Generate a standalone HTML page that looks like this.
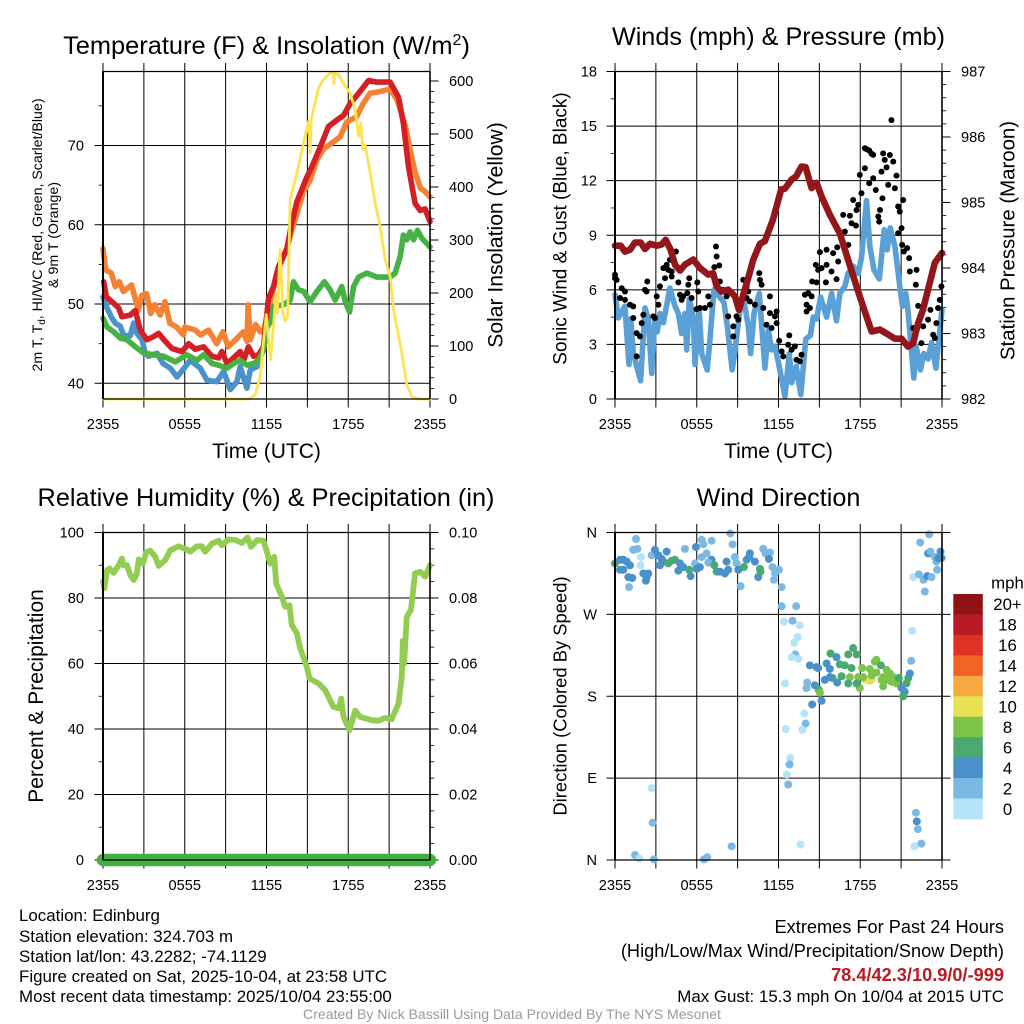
<!DOCTYPE html>
<html lang="en">
<head>
<meta charset="utf-8">
<title>Edinburg Mesonet Meteogram</title>
<style>
html,body{margin:0;padding:0;background:#fff;}
svg{display:block;font-family:"Liberation Sans",sans-serif;fill:#000;}
</style>
</head>
<body>
<svg id="chart" width="1024" height="1024" viewBox="0 0 1024 1024" xmlns="http://www.w3.org/2000/svg">
<rect width="1024" height="1024" fill="#fff"/>

<g id="panel-temp"></g>
<g id="panel-wind"></g>
<g id="panel-rh"></g>
<g id="panel-dir"></g>

<text x="266.5" y="54" font-size="25.4" text-anchor="middle">Temperature (F) &amp; Insolation (W/m<tspan dy="-9" font-size="16">2</tspan><tspan dy="9">)</tspan></text>
<text x="778.5" y="45" font-size="25.2" text-anchor="middle">Winds (mph) &amp; Pressure (mb)</text>
<text x="266" y="506" font-size="25.3" text-anchor="middle">Relative Humidity (%) &amp; Precipitation (in)</text>
<text x="778.5" y="506" font-size="25.2" text-anchor="middle">Wind Direction</text>

<text x="266.5" y="458" font-size="21" text-anchor="middle">Time (UTC)</text>
<text x="778.5" y="458" font-size="21" text-anchor="middle">Time (UTC)</text>

<text transform="translate(42,235) rotate(-90)" font-size="14.2" text-anchor="middle">2m T, T<tspan dy="3" font-size="10">d</tspan><tspan dy="-3">, HI/WC (Red, Green, Scarlet/Blue)</tspan></text>
<text transform="translate(58,235) rotate(-90)" font-size="14.2" text-anchor="middle">&amp; 9m T (Orange)</text>
<text transform="translate(502.5,235) rotate(-90)" font-size="21.1" text-anchor="middle">Solar Insolation (Yellow)</text>
<text transform="translate(566.5,228.5) rotate(-90)" font-size="19" text-anchor="middle">Sonic Wind &amp; Gust (Blue, Black)</text>
<text transform="translate(1014.5,240.5) rotate(-90)" font-size="20.4" text-anchor="middle">Station Pressure (Maroon)</text>
<text transform="translate(43,696) rotate(-90)" font-size="21" text-anchor="middle">Percent &amp; Precipitation</text>
<text transform="translate(566.5,696) rotate(-90)" font-size="18.4" text-anchor="middle">Direction (Colored By Speed)</text>

<g id="speed-legend"></g>

<g font-size="16.9">
<text x="19" y="921">Location: Edinburg</text>
<text x="19" y="942">Station elevation: 324.703 m</text>
<text x="19" y="962">Station lat/lon: 43.2282; -74.1129</text>
<text x="19" y="982">Figure created on Sat, 2025-10-04, at 23:58 UTC</text>
<text x="19" y="1002">Most recent data timestamp: 2025/10/04 23:55:00</text>
</g>
<g text-anchor="end">
<text x="1004" y="933" font-size="18.2">Extremes For Past 24 Hours</text>
<text x="1004" y="957" font-size="18.2">(High/Low/Max Wind/Precipitation/Snow Depth)</text>
<text x="1004" y="981" font-size="18.2" font-weight="bold" fill="#b81b23">78.4/42.3/10.9/0/-999</text>
<text x="1004" y="1002" font-size="16.9">Max Gust: 15.3 mph On 10/04 at 2015 UTC</text>
</g>
<text x="512" y="1019" font-size="14.07" text-anchor="middle" fill="#999">Created By Nick Bassill Using Data Provided By The NYS Mesonet</text>
</svg>

<script>
// ---------- time axis ----------
const gridHours = [0,3,6,9,12,15,18,21,24];
const labelHours = [0,6,12,18,24];
const timeLabels = ['2355','0555','1155','1755','2355'];

// ---------- temperature panel ----------
const tempTicks = [40,50,60,70];
const tempMinorTicks = [45,55,65,75];
const solarTicks = [0,100,200,300,400,500,600];
const solarMinorTicks = [20,40,60,80,120,140,160,180,220,240,260,280,320,340,360,380,420,440,460,480,520,540,560,580];

const wcHours = [0,.29,.66,.9,1.27,1.52,2,2.25,2.49,2.86,3.1,3.35,3.96,4.4,4.94,5.43,6.04,6.4,7.14,7.63,8.36,8.85,9.34,9.83,10.07,10.56,10.81,11.3,11.66];
const wcTemp = [50.9,49.5,48.2,47.6,47.2,46,46,47.6,46.3,45.5,43.8,43.4,43.8,42.5,41.9,40.8,42.1,42.9,41.9,40.4,40.2,41.5,39.2,40.2,42.1,39.4,41.7,42.1,44.2];

const orangeHours = [0,.2,.6,.9,1.2,1.5,2.1,2.6,2.85,3.2,3.5,3.8,4.2,4.55,4.9,5.4,5.9,6,6.8,7.15,7.75,8.35,8.8,9.2,9.85,10.3,10.57,10.65,10.8,11.2,11.55,11.8,12.4,12.75,13.5,13.86,14.2,14.7,15.2,15.7,16.2,16.8,17.4,17.9,18.6,19.1,19.6,20.3,21.08,21.6,22.2,22.55,22.9,23.3,23.64,24];
const orangeTemp = [57,54.3,53.9,52.2,52.8,51.6,52.4,49.2,51.1,51.3,48.8,49.9,48.6,50.3,47.6,47.1,46.1,47.1,46.7,46.1,46.7,45,46.5,44.6,45.7,46.5,45.3,49.9,45.5,47.4,46.5,46.7,51.3,53.9,57,59.3,61.2,64.2,65.6,68.2,69.6,70.3,71.1,73,73.6,75.3,76.6,76.8,77.1,75.7,72.4,69.4,66.7,64.6,64.2,63.5];

const redHours = [.05,.24,.78,1.15,1.39,2,2.37,2.74,3.23,3.72,4.08,4.57,5.06,5.79,6.28,6.77,7.38,8,8.48,8.73,9.1,9.58,10.07,10.32,10.68,11.05,11.42,11.78,12.15,12.52,12.88,13.5,13.86,14.23,14.96,15.33,15.94,16.55,17.16,17.65,18.14,18.63,19.49,20.1,21.08,21.69,22.05,22.42,22.91,23.28,23.64,24];
const redTemp = [52.8,50.9,50.1,49.5,48.4,48.6,49.2,46.7,45.5,45.9,46.3,45.3,44.4,44,45,44.3,44.6,43.4,43.2,44,42.5,43.2,44,42.9,44.6,43.4,43.6,44.6,50.7,52.2,54.7,57,60.2,62.9,66,67.3,69.8,72.4,73.2,73.8,75.3,76.3,78.2,78,78,76.1,72.8,67.3,62.7,61.8,62,60.4];

const greenHours = [0,.3,.78,1.27,1.76,2.37,3,3.72,4.45,5.3,6.16,6.9,7.38,8,8.48,9.1,9.58,10.07,10.56,11.05,11.42,11.78,12.03,12.4,12.52,13.25,13.74,13.98,14.35,14.72,15.2,15.7,16.24,16.67,17.04,17.53,17.78,18.09,18.39,18.75,19.36,20.1,21.08,21.44,21.81,22.05,22.3,22.54,22.79,23.08,23.4,24];
const greenTemp = [48.2,47.1,46.5,45.7,45.5,44.6,43.8,43.6,43.4,42.7,43.6,42.9,43.6,42.5,42.3,41.9,42.5,42.9,42.3,42.5,42.9,44.2,47.1,48,49.7,49.9,50.5,52.8,51.8,51.6,50.3,51.6,52.8,51.8,50.5,52.2,50.3,49,52.2,53.4,53.9,53.4,53.4,53.9,56,58.7,58.1,59.1,58.1,59.3,58.3,57.2];

const solarHours = [0,10.75,11.17,11.54,11.98,12.3,12.71,12.79,13,13.2,13.37,13.55,13.74,14.23,14.72,15.09,15.21,15.28,15.5,15.82,16.19,16.67,16.92,16.95,17,17.29,17.78,18.14,18.51,18.75,18.92,19.07,19.24,19.61,19.98,20.34,20.71,21.08,21.32,21.93,22.3,22.66,23.15,24];
const solarValues = [0,0,8,43,159,74,200,162,282,162,147,156,376,426,483,524,464,527,552,587,603,615,615,595,615,612,590,577,546,496,521,470,480,426,370,326,263,231,169,87,27,5,0,0];

// ---------- wind / pressure panel ----------
const windTicks = [0,3,6,9,12,15,18];
const windMinorTicks = [1.5,4.5,7.5,10.5,13.5,16.5];
const pressureTicks = [982,983,984,985,986,987];
const pressureMinorTicks = [982.2,982.4,982.6,982.8,983.2,983.4,983.6,983.8,984.2,984.4,984.6,984.8,985.2,985.4,985.6,985.8,986.2,986.4,986.6,986.8];

const sonicHours = [0,.24,.73,1.03,1.15,1.34,1.59,1.88,2.2,2.44,2.69,2.93,3.1,3.3,3.55,4.03,4.4,4.65,4.89,5.13,5.26,5.45,5.75,5.87,6.19,6.36,6.77,6.97,7.26,7.58,8,8.24,8.6,8.8,9.17,9.46,9.78,9.95,10.2,10.59,11,11.25,11.49,11.74,12.1,12.47,12.79,12.96,13.3,13.64,14,14.35,14.55,14.8,15.09,15.53,15.9,16.26,16.5,16.87,17.1,17.48,17.85,18.1,18.46,18.7,19,19.4,19.76,19.98,20.2,20.54,20.9,21.1,21.34,21.5,21.93,22.1,22.42,22.66,22.98,23.23,23.55,24];
const sonicSpeed = [5.73,4.45,5.1,1.9,4.4,2.5,1.8,1,5,4.4,1.4,4.5,3.7,4.7,4.2,6.1,5.1,4.7,3.6,4.7,2.7,5.5,4.5,1.9,4.8,2.5,1.6,3.3,6,5.7,5.3,4,1.6,2.6,4.9,5.4,4,2.5,4.7,5.8,1.7,3.8,2.7,2.9,1.6,.15,2.5,.9,1.8,.24,3.3,3.5,4.5,4.4,5.6,4.5,5.8,4.3,5.8,6.2,6.9,7.3,6.9,7.8,10.9,8.4,7.1,6.6,9.3,8.2,9.4,8.4,6.2,5.1,5.8,4.9,1.15,2.9,1.6,2.5,2.2,3.1,1.7,4.9];

const gustHours = [0,0,.12,.49,.73,.37,.73,1.1,1.34,1.34,1.59,1.83,1.96,2.08,2.2,2.37,2.32,2.81,2.93,3.06,3.3,3.18,3.55,3.79,4.03,4.47,4.16,3.91,3.67,4.16,4.65,4.77,5.01,4.89,5.45,5.38,5.31,5.62,6.04,6.11,5.99,6.23,6.6,6.97,6.85,7.29,7.65,7.41,7.46,7.7,7.95,8.19,8.31,8.68,8.92,8.68,9.05,9.41,9.66,9.78,9.66,9.9,10.27,10.59,10.64,10.76,10.88,11.37,11.12,11.49,11.37,11.74,11.86,11.86,12.05,12.23,12.35,12.79,12.71,13.2,12.96,13.32,13.69,13.57,13.94,14.18,14.43,14.06,14.3,14.06,14.47,14.79,15.04,14.74,14.91,15.16,15.53,15.53,15.89,16.01,16.26,16.38,16.31,15.48,16.75,16.87,17.24,17.12,17.36,17.68,17.48,17.73,17.85,17.97,18.34,18.09,18.66,18.95,19.14,19.32,19.45,19.39,19.63,19.56,19.93,19.8,19.68,20.17,20.42,20.05,20.54,20.66,20.78,20.9,21.03,20.78,21.15,21.08,21.2,21.44,21.59,21.64,22.13,22.08,22.25,21.88,22.49,22.62,22.98,23.15,23.35,23.59,23.71,23.84,23.96,20.29,18.34,18.46,18.66,18.83,18.95,23.47,1.59];
const gustSpeed = [6.83,6.64,6.55,6.09,5.91,5.55,5.45,5.18,5.09,4.45,3.62,3.44,4.17,4.63,6,6.46,5.91,4.54,4.45,5.64,6.19,5.18,7.19,7.37,7.65,8.11,7.01,7.1,6.64,6.73,6.41,5.73,5.64,5.45,6.64,6.28,5.82,5.55,6.41,5.91,4.94,5,5,5.18,5.64,7.25,7.34,8.38,7.83,6.46,6,5.64,4.54,3.99,4.54,3.44,4.36,6.55,6.19,5.91,5.55,5.36,5.18,6.92,6.55,6.28,5,5.64,4.08,3.9,4.72,4.54,4.81,4.17,3.2,2.62,2.34,3.5,2.98,2.89,2.71,2.16,2.43,2.07,5.73,5.82,5.64,5.18,5,4.81,6.46,6.41,8.07,7.37,7.1,7.19,8.2,7.37,7.01,8.02,6.59,7.56,8.34,6.41,10.12,9.2,10.07,8.47,9.66,9.53,10.94,10.39,10.67,12.32,12.68,11.31,11.86,12.13,11.49,10.03,10.39,9.75,11.03,12.5,12.73,13.14,13.5,13.41,13.05,11.77,11.58,12.28,10.58,10.3,9.39,9.11,10.94,8.47,8.11,8.29,7.74,7.01,7.1,6.28,5.12,3.9,3.07,3.99,4.36,4.9,3.53,4.17,5,5.45,6.19,15.33,13.78,13.73,13.66,13.48,13.42,3.35,2.34];

const pressureHours = [0,.42,.73,1.1,1.47,1.88,2.2,2.57,3.06,3.42,3.72,4.08,4.4,4.77,5.13,5.75,6.23,6.85,7.2,7.46,7.82,8.31,8.8,9.1,9.41,9.78,10.15,10.64,11,11.6,12.2,12.47,12.96,13.3,13.69,13.99,14.43,14.8,15.16,15.77,16.5,17.1,17.85,18.46,18.83,19.44,19.93,20.54,21.03,21.5,21.88,22.25,22.6,23.1,23.47,24];
const pressureValues = [984.34,984.34,984.25,984.28,984.39,984.39,984.29,984.37,984.34,984.36,984.43,984.28,984.05,983.96,984.05,984.13,984,983.9,983.92,983.72,983.64,983.67,983.57,983.36,983.59,983.85,984.13,984.37,984.41,984.74,985.2,985.21,985.35,985.4,985.55,985.54,985.22,985.3,985.09,984.81,984.53,984.13,983.64,983.26,983.03,983.06,983,982.92,982.92,982.8,982.85,983.16,983.36,983.77,984.08,984.23];

// ---------- humidity / precipitation panel ----------
const rhTicks = [0,20,40,60,80,100];
const rhMinorTicks = [10,30,50,70,90];
const precipTicks = [0,.02,.04,.06,.08,.1];
const precipTickLabels = ['0.00','0.02','0.04','0.06','0.08','0.10'];
const precipMinorTicks = [.005,.01,.015,.025,.03,.035,.045,.05,.055,.065,.07,.075,.085,.09,.095];

const rhHours = [0,.1,.29,.49,.78,1.15,1.39,1.52,1.76,2,2.25,2.49,2.62,2.93,3.18,3.47,3.84,4.08,4.57,4.94,5.55,6.16,6.4,6.89,7.26,7.5,8,8.48,8.73,9.22,9.71,10.2,10.61,10.86,11.3,11.78,12.03,12.27,12.57,12.71,13.13,13.37,13.69,13.86,14.23,14.47,14.96,15.16,15.82,16.3,16.67,16.9,17.29,17.48,17.65,18.09,18.51,18.88,19.73,20.22,20.71,21.2,21.69,21.93,22,22.1,22.3,22.6,22.91,23.28,23.64,24];
const rhValues = [85,83,88.5,89,87.7,90,92,90,90,87,85.5,87.5,91.8,90.5,94,94.4,92.6,89.8,91.6,94.6,95.8,94.8,94.1,95.8,95.8,94.1,96.6,97.5,96.1,97.9,97.7,96.8,98.5,95.6,97.7,97.5,94.1,90.5,92.6,84.4,80.4,77.3,77.8,71.7,69.2,64.6,59,55.4,53.9,51.9,48.8,46.8,46.3,49.3,43.7,39.7,45.6,43.7,42.7,42.5,43.4,43,47.8,56,67,60,74.3,76.3,87.5,88,86.5,90];
const precipHours = [0,24];
const precipValues = [0,0];

// ---------- wind direction panel ----------
const dirTicks = [0,90,180,270,360];
const dirTickLabels = ['N','E','S','W','N'];
const dirHours = [0,.37,.61,.86,1.1,.37,.61,.98,1.27,1.03,1.54,1.34,1.64,1.91,1.88,2.08,2.44,2.27,2.32,2.69,2.93,3.18,3.42,3.79,3.3,3.55,3.91,4.16,4.4,4.77,4.65,5.01,5.13,5.45,5.55,5.87,5.99,5.94,6.23,6.36,6.48,7.09,6.72,6.36,7.09,6.85,7.29,7.46,7.7,8.07,8.19,8.31,8.46,8.63,8.8,8.92,9.05,9.22,9.46,9.66,9.9,9.85,10.27,10.51,10.64,10.68,10.88,11.05,11.37,11.3,11.56,11.74,12.03,11.66,12.23,12.23,13.3,12.4,13.03,13.55,13.4,13.15,13.23,12.96,13.47,12.47,14.3,14.79,14.91,15.53,15.77,15.82,16.26,16.5,16.87,17.12,17.48,17.73,17.36,17.24,16.63,15.97,15.77,15.4,16.31,14.11,14.06,14.67,14.96,15.04,14.47,15.16,13.89,13.99,13.74,12.54,12.86,12.81,12.62,12.71,2.69,2.76,1.47,1.78,2.86,6.53,6.77,8.56,13.62,22.08,22.15,22.23,22.49,21.98,18.14,18.7,19.19,19.07,19.51,18.46,18.7,18.34,18.83,17.97,17.85,17.12,17.73,18.22,18.83,19.19,19.93,20.17,19.68,20.42,19.68,20.66,20.29,19.93,19.56,20.83,21.52,21.39,21.64,21.74,21.81,21.03,21.27,21.15,21.88,22.3,22.64,22.91,23.23,22.74,22.4,23.06,22.98,23.15,23.47,23.59,23.64,23.89,23.96,23.72];
const dirDegrees = [326,330,330,328,324,319,319,311,310,300,353,341,342,333,324,315,315,307,311,335,341,335,331,339,324,328,326,329,330,326,318,322,342,319,312,326,320,344,322,352,347,351,337,333,330,327,324,317,317,315,328,319,359,347,333,326,319,301,322,330,337,333,328,311,320,317,342,337,338,331,322,315,319,308,300,279,279,262,263,258,245,239,226,223,221,194,214,212,211,216,210,227,223,215,214,226,233,226,211,201,202,200,201,198,195,195,189,192,187,184,171,175,161,150,143,144,112,105,94,83,79,41,5.5,1.5,.7,.7,3,15,17,52,42.5,34,18,15,211,210,220,218,214,198,197,198.5,198,189,201,194,194,201,203,206,209,205,201,201,191,194,196,198,198,200,200,194,205,219,252,189,185,180,311,314,308,312,311,295,349,358,337,339,333,328,319,339,332,331.5];
const dirSpeeds = [6,4,4,4,4,4,4,4,4,2,2,2,2,0,0,4,4,4,4,2,4,4,4,4,4,4,6,6,6,4,4,4,2,6,4,2,4,4,4,2,2,2,2,2,4,2,6,6,4,4,4,4,2,2,2,2,4,2,6,4,4,4,4,4,6,6,2,2,2,4,2,2,2,2,2,2,2,0,2,0,0,0,2,0,0,0,4,4,4,4,4,6,4,6,6,6,6,6,6,8,6,6,4,4,4,2,2,4,6,8,4,4,0,2,0,0,0,2,0,2,0,2,2,0,2,2,2,2,0,2,4,2,2,0,8,8,8,8,6,10,10,10,10,8,8,6,6,8,8,8,8,8,8,8,8,8,8,8,8,6,6,6,4,2,0,4,4,6,0,2,2,4,2,2,2,2,4,2,2,2,2,4,4,4];

// ---------- legend ----------
const legendLabels = ['20+','18','16','14','12','10','8','6','4','2','0'];
const legendColors = ['#8f1315','#b81b23','#de3226','#f26227','#f7a941','#e8e154','#7cc34a','#4aa970','#4a90c9','#7bb8e4','#b5e3f8'];
const speedBins = [0,2,4,6,8,10,12,14,16,18,20];
const speedColors = ['#b5e3f8','#7bb8e4','#4a90c9','#4aa970','#7cc34a','#e8e154','#f7a941','#f26227','#de3226','#b81b23','#8f1315'];

// ---------- helpers ----------
const NS = 'http://www.w3.org/2000/svg';
function make(tag, parent, attrs, text) {
  const el = document.createElementNS(NS, tag);
  for (const k in attrs) el.setAttribute(k, attrs[k]);
  if (text !== undefined) el.textContent = text;
  parent.appendChild(el);
  return el;
}
function linear(d0, d1, r0, r1) {
  return v => r0 + (v - d0) * (r1 - r0) / (d1 - d0);
}
function rule(parent, x1, y1, x2, y2, width, name) {
  const el = make('line', parent, {x1, y1, x2, y2, stroke:'#000', 'stroke-width':width});
  
  
  return el;
}
function label(parent, x, y, anchor, text, name) {
  const el = make('text', parent, {x, y, 'text-anchor':anchor, 'font-size':14.6}, text);
  
  
  return el;
}
function curve(parent, hours, values, xs, ys, color, width, name) {
  const pts = hours.map((h, i) => xs(h).toFixed(1) + ',' + ys(values[i]).toFixed(1)).join(' ');
  const el = make('polyline', parent, {points:pts, fill:'none', stroke:color, 'stroke-width':width, 'stroke-linejoin':'round', 'stroke-linecap':'round'});
  
  
  return el;
}
function dot(parent, cx, cy, r, color, name) {
  const el = make('circle', parent, {cx, cy, r, fill:color});
  
  
  return el;
}

const LEFT_X = [103, 430];
const RIGHT_X = [615, 942];
const TOP_Y = [71.5, 399];
const LOW_Y = [532.5, 860];
const MAJOR = 8.5;
const MINOR = 4.3;

function timeGrid(g, xs, box) {
  gridHours.forEach(h => {
    rule(g, xs(h), box[0] - MAJOR, xs(h), box[1] + MAJOR, 1, 'time-grid-line');
  });
  labelHours.forEach((h, i) => {
    label(g, xs(h), box[1] + 30, 'middle', timeLabels[i], 'time-tick-label');
  });
}
function valueGrid(g, ticks, ys, xr) {
  ticks.forEach(v => {
    rule(g, xr[0] - MAJOR, ys(v), xr[1], ys(v), 1, 'value-grid-line');
  });
}
function leftMinor(g, ticks, ys, xr) {
  ticks.forEach(v => {
    rule(g, xr[0] - MINOR, ys(v), xr[0], ys(v), 0.8, 'left-minor-tick');
  });
}
function rightMinor(g, ticks, ys, xr) {
  ticks.forEach(v => {
    rule(g, xr[1], ys(v), xr[1] + MINOR, ys(v), 0.8, 'right-minor-tick');
  });
}
function rightMajor(g, ticks, ys, xr) {
  ticks.forEach(v => {
    rule(g, xr[1], ys(v), xr[1] + MAJOR, ys(v), 1, 'right-major-tick');
  });
}
function frame(g, xr, box) {
  rule(g, xr[0], box[0], xr[1], box[0], 1.2, 'frame-top');
  rule(g, xr[0], box[1], xr[1], box[1], 1.2, 'frame-bottom');
  rule(g, xr[0], box[0], xr[0], box[1], 2, 'frame-left');
  rule(g, xr[1], box[0], xr[1], box[1], 1.6, 'frame-right');
}

// ---------- temperature panel ----------
(function () {
  const g = document.getElementById('panel-temp');
  const xs = linear(0, 24, LEFT_X[0], LEFT_X[1]);
  const yT = linear(40, 70, 383.3, 145.5);
  const yS = linear(0, 600, 399, 81);
  timeGrid(g, xs, TOP_Y);
  valueGrid(g, tempTicks, yT, LEFT_X);
  leftMinor(g, tempMinorTicks, yT, LEFT_X);
  rightMajor(g, solarTicks, yS, LEFT_X);
  rightMinor(g, solarMinorTicks, yS, LEFT_X);
  tempTicks.forEach(v => {
    label(g, 84, yT(v) + 5, 'end', String(v), 'temperature-tick-label');
  });
  solarTicks.forEach(v => {
    label(g, 449, yS(v) + 5, 'start', String(v), 'solar-tick-label');
  });
  curve(g, wcHours, wcTemp, xs, yT, '#4b92cb', 5.6, 'wind-chill-line');
  curve(g, orangeHours, orangeTemp, xs, yT, '#f58232', 5.6, 'nine-meter-temperature-line');
  curve(g, redHours, redTemp, xs, yT, '#d41f27', 5.6, 'two-meter-temperature-line');
  curve(g, greenHours, greenTemp, xs, yT, '#46b144', 5.6, 'dew-point-line');
  curve(g, solarHours, solarValues, xs, yS, '#fee250', 2.8, 'solar-insolation-line');
  frame(g, LEFT_X, TOP_Y);
})();

// ---------- wind panel ----------
(function () {
  const g = document.getElementById('panel-wind');
  const xs = linear(0, 24, RIGHT_X[0], RIGHT_X[1]);
  const yW = linear(0, 18, 399, 71.5);
  const yP = linear(982, 987, 399, 71.5);
  timeGrid(g, xs, TOP_Y);
  valueGrid(g, windTicks, yW, RIGHT_X);
  leftMinor(g, windMinorTicks, yW, RIGHT_X);
  rightMajor(g, pressureTicks, yP, RIGHT_X);
  rightMinor(g, pressureMinorTicks, yP, RIGHT_X);
  windTicks.forEach(v => {
    label(g, 597, yW(v) + 5, 'end', String(v), 'wind-tick-label');
  });
  pressureTicks.forEach(v => {
    label(g, 961, yP(v) + 5, 'start', String(v), 'pressure-tick-label');
  });
  curve(g, sonicHours, sonicSpeed, xs, yW, '#5a9fd5', 5.6, 'sonic-wind-line');
  gustHours.forEach((h, i) => {
    dot(g, xs(h), yW(gustSpeed[i]), 3, '#000', 'gust-point');
  });
  curve(g, pressureHours, pressureValues, xs, yP, '#93161a', 6.6, 'station-pressure-line');
  frame(g, RIGHT_X, TOP_Y);
})();

// ---------- humidity panel ----------
(function () {
  const g = document.getElementById('panel-rh');
  const xs = linear(0, 24, LEFT_X[0], LEFT_X[1]);
  const yR = linear(0, 100, 860, 532.5);
  const yP = linear(0, .1, 860, 532.5);
  timeGrid(g, xs, LOW_Y);
  valueGrid(g, rhTicks, yR, LEFT_X);
  leftMinor(g, rhMinorTicks, yR, LEFT_X);
  rightMajor(g, precipTicks, yP, LEFT_X);
  rightMinor(g, precipMinorTicks, yP, LEFT_X);
  rhTicks.forEach(v => {
    label(g, 84, yR(v) + 5, 'end', String(v), 'humidity-tick-label');
  });
  precipTicks.forEach((v, i) => {
    label(g, 449, yP(v) + 5, 'start', precipTickLabels[i], 'precipitation-tick-label');
  });
  curve(g, rhHours, rhValues, xs, yR, '#92cc50', 5.8, 'relative-humidity-line');
  curve(g, precipHours, precipValues, xs, yP, '#44ae43', 12.5, 'precipitation-line');
  frame(g, LEFT_X, LOW_Y);
})();

// ---------- direction panel ----------
(function () {
  const g = document.getElementById('panel-dir');
  const xs = linear(0, 24, RIGHT_X[0], RIGHT_X[1]);
  const yD = linear(0, 360, 860, 532.5);
  timeGrid(g, xs, LOW_Y);
  valueGrid(g, dirTicks, yD, RIGHT_X);
  rightMajor(g, dirTicks, yD, RIGHT_X);
  dirTicks.forEach((v, i) => {
    label(g, 597, yD(v) + 5, 'end', dirTickLabels[i], 'direction-tick-label');
  });
  dirHours.forEach((h, i) => {
    const bin = speedBins.indexOf(dirSpeeds[i]);
    dot(g, xs(h), yD(dirDegrees[i]), 4, speedColors[bin], 'wind-direction-point');
  });
  frame(g, RIGHT_X, LOW_Y);

  const lg = document.getElementById('speed-legend');
  const title = make('text', lg, {x:1007.5, y:588.5, 'text-anchor':'middle', 'font-size':16.8}, 'mph');
  
  
  const top = 594, h = 225 / legendLabels.length;
  legendLabels.forEach((t, i) => {
    const box = make('rect', lg, {x:953.3, y:top + i * h, width:29.5, height:h + 0.3, fill:legendColors[i]});
    
    
    const txt = make('text', lg, {x:1007.5, y:top + i * h + h / 2 + 6, 'text-anchor':'middle', 'font-size':16.8}, t);
    
    
  });
})();
</script>
</body>
</html>
